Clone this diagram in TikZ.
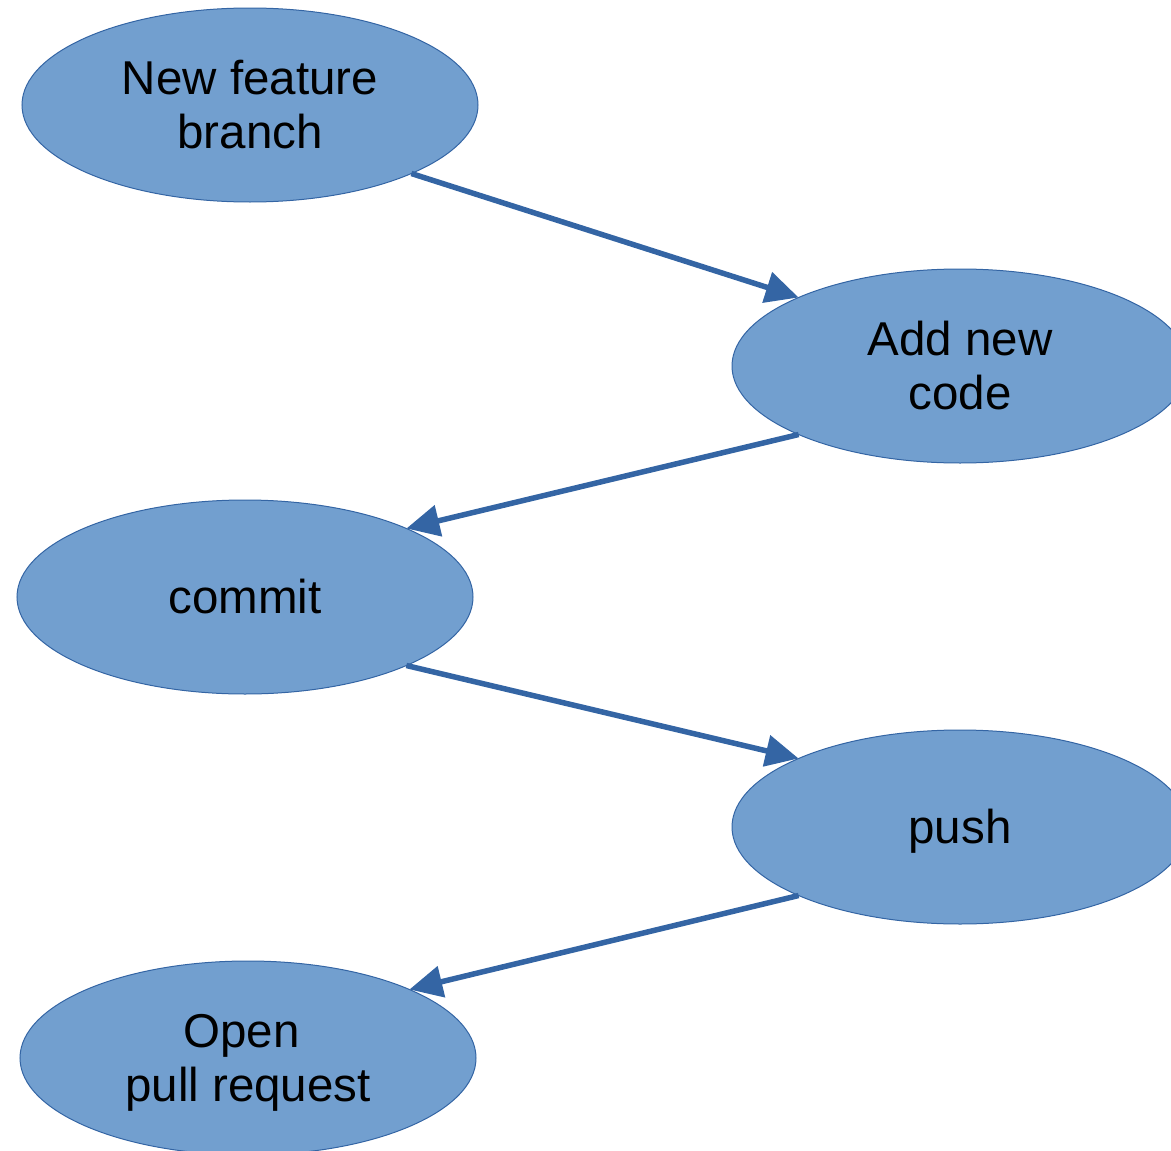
\documentclass[tikz,border=0pt]{standalone}
\usepackage{fontspec}
\setmainfont{Liberation Sans}
\usetikzlibrary{shapes.geometric,arrows.meta}
\definecolor{nodefill}{HTML}{729FCF}
\definecolor{nodeline}{HTML}{3465A4}
% struts giving each text block the full ascent and descent of the font
\newcommand{\ascrule}{\rule{0pt}{43pt}}
\newcommand{\descrule}{\rule[-10pt]{0pt}{10pt}}
\tikzset{
  stepnode/.style={ellipse, fill=nodefill, draw=nodeline, line width=1pt,
    minimum width=456pt, minimum height=194pt, inner sep=0pt, outer sep=0pt,
    align=center, font=\fontsize{47.5}{54}\selectfont},
  flow/.style={draw=nodeline, line width=5.5pt,
    -{Triangle[length=33pt,width=31pt]}}
}
\begin{document}
\begin{tikzpicture}[x=1pt,y=-1pt]
  \useasboundingbox (0,0) rectangle (1171,1151);
  \clip (0,0) rectangle (1171,1151);
  \node[stepnode] (branch) at (250,105) {\ascrule New feature\\branch\descrule};
  \node[stepnode] (code)   at (960,366) {\ascrule Add new\\code\descrule};
  \node[stepnode] (commit) at (245,597) {\ascrule commit\descrule};
  \node[stepnode] (push)   at (960,827) {\ascrule push\descrule};
  \node[stepnode] (pr)     at (248,1058) {\ascrule Open\hspace*{13.2pt}\\pull request\descrule};
  \draw[flow] (branch.-23) -- (code.157);
  \draw[flow] (code.-157) -- (commit.23);
  \draw[flow] (commit.-23) -- (push.157);
  \draw[flow] (push.-157) -- (pr.23);
\end{tikzpicture}
\end{document}
